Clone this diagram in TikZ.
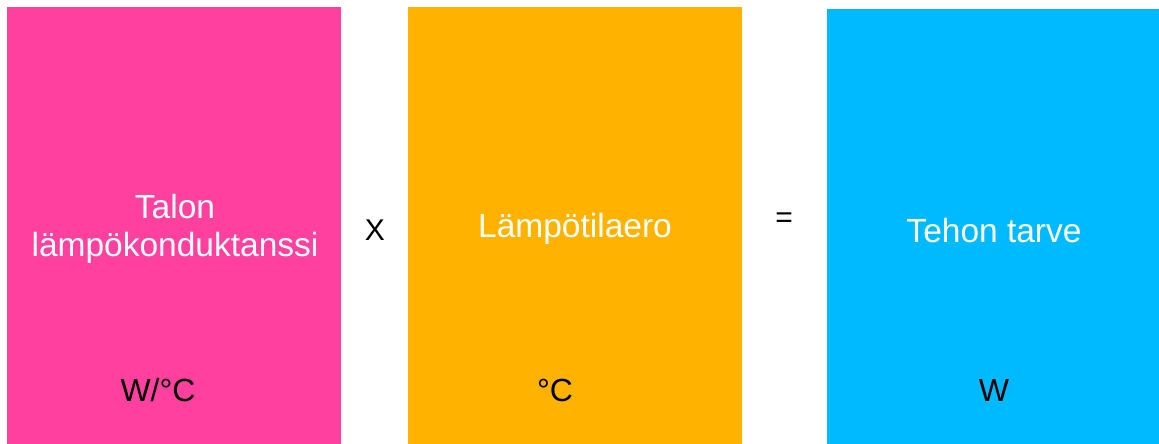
\documentclass[tikz,border=0pt]{standalone}
\usepackage{fontspec}
\setmainfont{Liberation Sans}
\usetikzlibrary{positioning}
\definecolor{kpink}{HTML}{FF409F}
\definecolor{korange}{HTML}{FFB300}
\definecolor{kblue}{HTML}{00BAFF}

\begin{document}
\begin{tikzpicture}[
        x=1pt, y=1pt,
        card/.style={
            rectangle, draw=none,
            minimum width=334pt, minimum height=437pt,
            inner sep=0pt
        },
        title/.style={
            text=white, align=center, inner sep=0pt,
            font=\fontsize{33.5}{38}\selectfont
        },
        unit/.style={
            text=black, inner sep=0pt,
            font=\fontsize{32}{38}\selectfont
        },
        op/.style={
            text=black, inner sep=0pt,
            font=\fontsize{30}{36}\selectfont
        }
    ]
    \useasboundingbox (0,0) rectangle (1159,444);

    \node [card, fill=kpink] (conductance) at (174,218.5) {};
    \node [card, fill=korange] (tempdiff) at (575,218.5) {};
    \node [card, fill=kblue, minimum width=332pt, minimum height=435pt] (power) at (993,217.5) {};

    \node [title] (conductancetxt) at (175,215) {Talon\\lämpökonduktanssi};
    \node [title] (tempdifftxt) at (575,215) {Lämpötilaero};
    \node [title] (powertxt) at (994,213) {Tehon tarve};

    \node [unit] (conductanceunit) at (158,54) {W/°C};
    \node [unit] (tempdiffunit) at (555,54) {°C};
    \node [unit] (powerunit) at (994,54) {W};

    \node [op] (times) at (375,214) {X};
    \node [op] (equals) at (784,224) {=};

    \end{tikzpicture}
\end{document}
